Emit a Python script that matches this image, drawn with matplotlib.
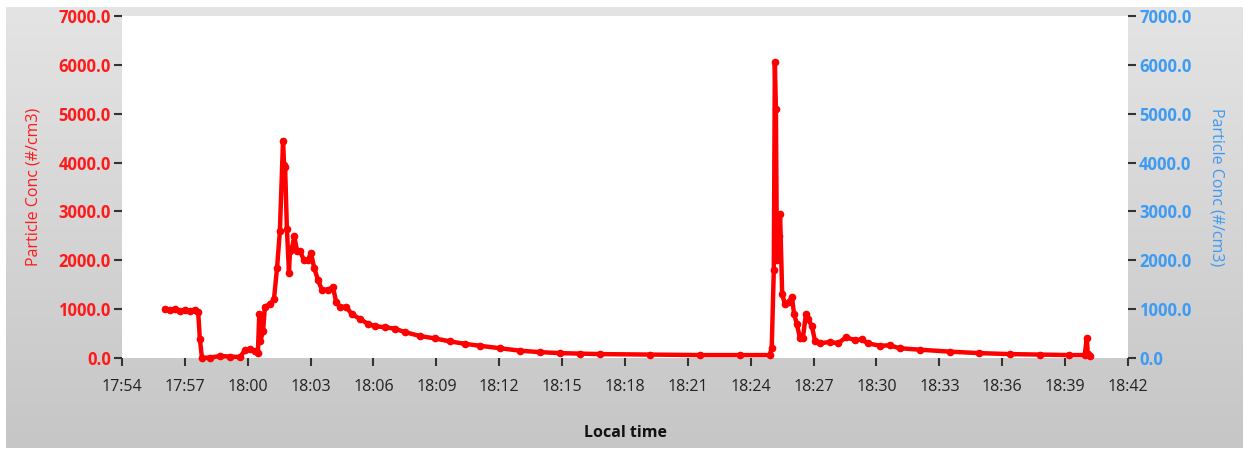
import matplotlib
matplotlib.use("Agg")
import matplotlib.pyplot as plt
import matplotlib.dates as mdates
import numpy as np
import pandas as pd

# local time stamps and particle concentration (#/cm3)
times = [
    "17:56:03", "17:56:17", "17:56:32", "17:56:46", "17:57:00", "17:57:14",
    "17:57:29", "17:57:38", "17:57:43", "17:57:49", "17:58:12", "17:58:41",
    "17:59:09", "17:59:38", "17:59:52", "18:00:06", "18:00:21", "18:00:29",
    "18:00:33", "18:00:36", "18:00:44", "18:00:49", "18:01:04", "18:01:15",
    "18:01:24", "18:01:32", "18:01:41", "18:01:44", "18:01:47", "18:01:52",
    "18:01:58", "18:02:01", "18:02:07", "18:02:13", "18:02:21", "18:02:29",
    "18:02:41", "18:02:52", "18:03:01", "18:03:10", "18:03:21", "18:03:32",
    "18:03:50", "18:04:04", "18:04:13", "18:04:24", "18:04:41", "18:04:58",
    "18:05:21", "18:05:44", "18:06:04", "18:06:33", "18:07:01", "18:07:30",
    "18:08:13", "18:08:56", "18:09:39", "18:10:22", "18:11:05", "18:12:02",
    "18:12:59", "18:13:56", "18:14:54", "18:15:51", "18:16:48", "18:19:12",
    "18:21:36", "18:23:30", "18:24:54", "18:25:00", "18:25:06", "18:25:09",
    "18:25:12", "18:25:15", "18:25:21", "18:25:24", "18:25:30", "18:25:38",
    "18:25:49", "18:25:58", "18:26:04", "18:26:12", "18:26:21", "18:26:29",
    "18:26:38", "18:26:44", "18:26:55", "18:27:04", "18:27:18", "18:27:47",
    "18:28:10", "18:28:32", "18:28:58", "18:29:18", "18:29:35", "18:30:10",
    "18:30:38", "18:31:06", "18:32:04", "18:33:30", "18:34:54", "18:36:22",
    "18:37:48", "18:39:12", "18:39:56", "18:40:02", "18:40:05", "18:40:11",
]
conc = [
    1000, 990, 1000, 960, 990, 970,
    990, 950, 380, 0, 10, 40,
    30, 20, 160, 180, 150, 100,
    900, 350, 550, 1050, 1100, 1200,
    1850, 2600, 4450, 3950, 3900, 2650,
    1750, 2200, 2250, 2500, 2200, 2200,
    2000, 2000, 2150, 1850, 1600, 1400,
    1400, 1450, 1150, 1050, 1050, 900,
    800, 700, 650, 630, 600, 530,
    450, 400, 340, 290, 250, 200,
    150, 120, 100, 90, 80, 70,
    60, 60, 60, 200, 1800, 6050,
    5100, 2000, 2500, 2950, 1300, 1100,
    1150, 1250, 900, 700, 400, 400,
    900, 800, 650, 350, 300, 330,
    300, 420, 370, 380, 300, 250,
    260, 200, 170, 130, 100, 80,
    70, 60, 60, 400, 80, 50,
]
y_ticks = [0, 1000, 2000, 3000, 4000, 5000, 6000, 7000]
x_start, x_end = "17:54:00", "18:42:00"

DAY = "2020-01-01 "
t = pd.to_datetime([DAY + s for s in times])

W, H = 1247, 451
fig = plt.figure(figsize=(W / 100, H / 100), dpi=100)
fig.patch.set_facecolor("white")

# gray gradient panel behind the chart
bg = fig.add_axes([6 / W, 3 / H, 1237 / W, 441 / H], zorder=-10)
grad = np.linspace(0, 1, 256).reshape(-1, 1)
bg.imshow(grad, aspect="auto", cmap=matplotlib.colors.LinearSegmentedColormap.from_list(
    "panel", ["#e4e4e4", "#c6c6c6"]), extent=[0, 1, 0, 1], origin="upper")
bg.set_axis_off()

ax = fig.add_axes([122 / W, 1 - 358 / H, 1006 / W, 342 / H])
ax.set_facecolor("white")
ax.plot(t, conc, color="#ff0000", linewidth=3.2, marker="o", markersize=4.5,
        solid_joinstyle="round", clip_on=False, zorder=3)

ax.set_xlim(pd.Timestamp(DAY + x_start), pd.Timestamp(DAY + x_end))
ax.set_ylim(0, 7000)
ax.set_yticks(y_ticks)
ax.yaxis.set_major_formatter(matplotlib.ticker.FormatStrFormatter("%.1f"))
ax.xaxis.set_major_locator(mdates.MinuteLocator(byminute=range(0, 60, 3)))
ax.xaxis.set_major_formatter(mdates.DateFormatter("%H:%M"))

for s in ax.spines.values():
    s.set_visible(False)

FONT = "Open Sans"
ax.tick_params(axis="y", colors="#333333", labelcolor="#ff1a1a", length=6,
               width=1.5, pad=2, direction="out")
ax.tick_params(axis="x", colors="#333333", labelcolor="#222222", length=6,
               width=1.5, pad=9, direction="out")
for lb in ax.get_yticklabels():
    lb.set_fontfamily(FONT)
    lb.set_fontweight("bold")
    lb.set_fontsize(12)
for lb in ax.get_xticklabels():
    lb.set_fontfamily(FONT)
    lb.set_fontsize(11.5)

ax.set_ylabel("Particle Conc (#/cm3)", color="#ff1a1a", fontsize=11.5,
              fontfamily=FONT, labelpad=12)
ax.set_xlabel("Local time", color="#111111", fontsize=11.5, fontweight="bold",
              fontfamily=FONT, labelpad=22)

ax2 = ax.twinx()
ax2.set_ylim(0, 7000)
ax2.set_yticks(y_ticks)
ax2.yaxis.set_major_formatter(matplotlib.ticker.FormatStrFormatter("%.1f"))
for s in ax2.spines.values():
    s.set_visible(False)
ax2.tick_params(axis="y", colors="#333333", labelcolor="#3d9bf2", length=6,
                width=1.5, pad=2, direction="out")
for lb in ax2.get_yticklabels():
    lb.set_fontfamily(FONT)
    lb.set_fontweight("bold")
    lb.set_fontsize(12)
ax2.set_ylabel("Particle Conc (#/cm3)", color="#3d9bf2", fontsize=11.5,
               fontfamily=FONT, rotation=270, labelpad=24)

fig.savefig("out.png", dpi=100)
